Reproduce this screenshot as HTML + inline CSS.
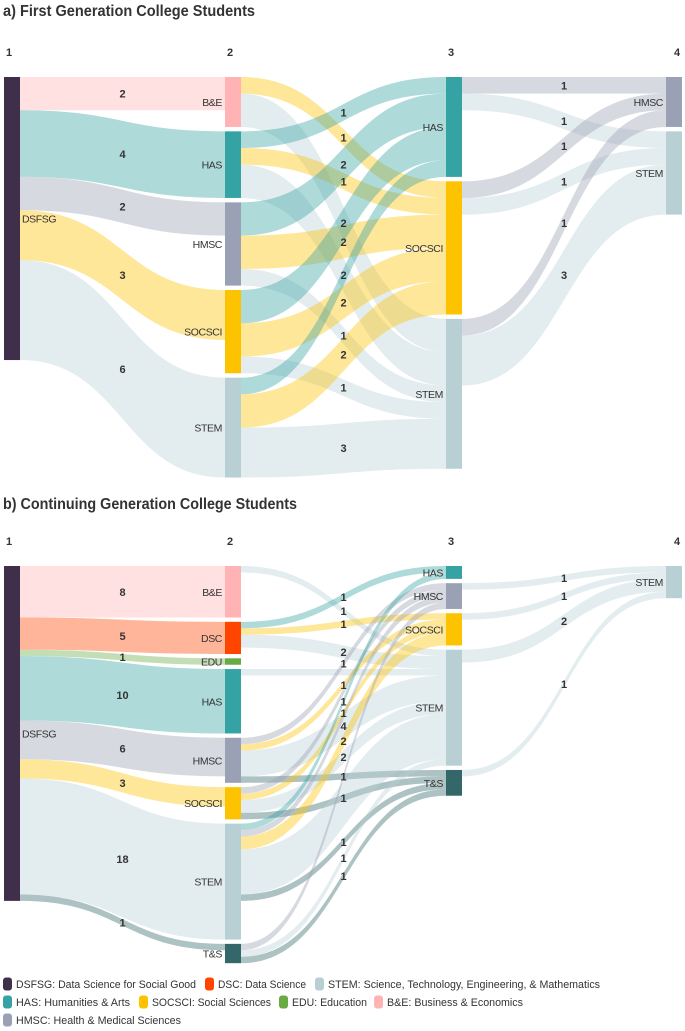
<!DOCTYPE html>
<html><head><meta charset="utf-8"><style>
body{margin:0;background:#fff}
svg{display:block;font-family:"Liberation Sans",sans-serif}
</style></head><body>
<svg id="s" width="685" height="1031" viewBox="0 0 685 1031">
<text x="3" y="16" font-size="15.5" font-weight="bold" fill="#333" textLength="252" lengthAdjust="spacingAndGlyphs">a) First Generation College Students</text>
<text x="3" y="509" font-size="15.5" font-weight="bold" fill="#333" textLength="294" lengthAdjust="spacingAndGlyphs">b) Continuing Generation College Students</text>
<g id="legend"></g>
</svg>
<script>
// ---- Chart A data ----
const aNodeNames = ["DSFSG","B&E","HAS","HMSC","SOCSCI","STEM","HAS","SOCSCI","STEM","HMSC","STEM"];
const aNodeCols  = [0,1,1,1,1,1,2,2,2,3,3];
const aLinkSrc = [0,0,0,0,0, 1,1, 2,2,2, 3,3,3, 4,4,4, 5,5,5, 6,6, 7,7, 8,8];
const aLinkTgt = [1,2,3,4,5, 7,8, 6,7,8, 6,7,8, 6,7,8, 6,7,8, 9,10, 9,10, 9,10];
const aLinkVal = [2,4,2,3,6, 1,2, 1,1,2, 2,2,1, 2,2,1, 1,2,3, 1,1, 1,1, 1,3];
// ---- Chart B data ----
const bNodeNames = ["DSFSG","B&E","DSC","EDU","HAS","HMSC","SOCSCI","STEM","T&S","HAS","HMSC","SOCSCI","STEM","T&S","STEM"];
const bNodeCols  = [0,1,1,1,1,1,1,1,1,2,2,2,2,2,3];
const bLinkSrc = [0,0,0,0,0,0,0,0, 1, 2,2,2, 4, 5,5,5,5, 6,6,6,6, 7,7,7,7,7, 8,8,8, 10,11,12,13];
const bLinkTgt = [1,2,3,4,5,6,7,8, 12, 9,11,12, 12, 10,11,12,13, 10,11,12,13, 9,10,11,12,13, 10,12,13, 14,14,14,14];
const bLinkVal = [8,5,1,10,6,3,18,1, 1, 1,1,2, 1, 1,1,4,1, 1,1,2,1, 1,1,2,7,1, 1,1,1, 1,1,2,1];
// ---- Legend ----
const legendLabels = ["DSFSG: Data Science for Social Good","DSC: Data Science","STEM: Science, Technology, Engineering, & Mathematics","HAS: Humanities & Arts","SOCSCI: Social Sciences","EDU: Education","B&E: Business & Economics","HMSC: Health & Medical Sciences"];
const legendKeys = ["DSFSG","DSC","STEM","HAS","SOCSCI","EDU","B&E","HMSC"];

const colors = {"DSFSG":"#3f2f4a","B&E":"#ffb3b5","DSC":"#ff4500","EDU":"#6aaa44","HAS":"#35a3a3","HMSC":"#9aa1b5","SOCSCI":"#fdc300","STEM":"#b8cfd4","T&S":"#33676a"};
const NS="http://www.w3.org/2000/svg";
const svg=document.getElementById('s');
const colX=[4,225,446,666], NW=16;
function mk(tag,attrs,parent){const e=document.createElementNS(NS,tag);for(const k in attrs)e.setAttribute(k,attrs[k]);(parent||svg).appendChild(e);return e;}
function slug(s){return s.toLowerCase().replace(/&/g,'and').replace(/[^a-z0-9]+/g,'-');}

function drawSankey(names,cols,src,tgt,val,top,unit,gap,hdrY,prefix){
  const n=names.length, inS=new Array(n).fill(0), outS=new Array(n).fill(0);
  for(let i=0;i<src.length;i++){outS[src[i]]+=val[i];inS[tgt[i]]+=val[i];}
  const ny=[],nh=[],colY={};
  for(let i=0;i<n;i++){const c=cols[i];if(colY[c]===undefined)colY[c]=top;ny[i]=colY[c];nh[i]=Math.max(inS[i],outS[i])*unit;colY[c]+=nh[i]+gap;}
  const sOff={},tOff={};
  const order=[...src.keys()];
  const outOrd=order.slice().sort((a,b)=>src[a]-src[b]||tgt[a]-tgt[b]);
  const oAcc=new Array(n).fill(0),iAcc=new Array(n).fill(0);
  outOrd.forEach(i=>{sOff[i]=ny[src[i]]+oAcc[src[i]];oAcc[src[i]]+=val[i]*unit;});
  const inOrd=order.slice().sort((a,b)=>tgt[a]-tgt[b]||src[a]-src[b]);
  inOrd.forEach(i=>{tOff[i]=ny[tgt[i]]+iAcc[tgt[i]];iAcc[tgt[i]]+=val[i]*unit;});
  const lg=mk('g',{});
  
  
  const labs=[];
  for(let i=0;i<src.length;i++){
    const w=val[i]*unit,x0=colX[cols[src[i]]]+NW,x1=colX[cols[tgt[i]]],xm=(x0+x1)/2;
    const y0=sOff[i],y1=tOff[i];
    const d=`M${x0},${y0}C${xm},${y0} ${xm},${y1} ${x1},${y1}L${x1},${y1+w}C${xm},${y1+w} ${xm},${y0+w} ${x0},${y0+w}Z`;
    const p=mk('path',{d:d,fill:colors[names[tgt[i]]],'fill-opacity':0.4},lg);
    
    
    labs.push([xm,(y0+y1)/2+w/2,val[i],cols[src[i]]]);
  }
  for(let i=0;i<n;i++){
    const r=mk('rect',{x:colX[cols[i]],y:ny[i],width:NW,height:nh[i],fill:colors[names[i]]});
    
    
    const left=cols[i]===0;
    const t=mk('text',{x:left?colX[0]+NW+2:colX[cols[i]]-3,y:ny[i]+nh[i]/2+4,'font-size':10.5,fill:'#333','text-anchor':left?'start':'end','letter-spacing':'-0.4'});
    t.textContent=names[i];
    
    
  }
  labs.sort((a,b)=>a[3]-b[3]||a[1]-b[1]);
  let lastCol=-1,lastY=-1e9;
  labs.forEach(l=>{
    if(l[3]===lastCol && l[1]-lastY<10) return;
    lastCol=l[3];lastY=l[1];
    const t=mk('text',{x:l[0],y:l[1]+4,'font-size':11,'font-weight':'bold',fill:'#333','text-anchor':'middle'});
    t.textContent=l[2];
    
    
  });
  [1,2,3,4].forEach((c,k)=>{
    const t=mk('text',{x:colX[k]+(k===3?11:5),y:hdrY,'font-size':11,'font-weight':'bold',fill:'#333','text-anchor':'middle'});
    t.textContent=c;
    
    
  });
}
drawSankey(aNodeNames,aNodeCols,aLinkSrc,aLinkTgt,aLinkVal,77,16.65,4.4,56,'first-gen');
drawSankey(bNodeNames,bNodeCols,bLinkSrc,bLinkTgt,bLinkVal,566,6.44,4.3,545,'continuing-gen');

// legend
const lgd=document.getElementById('legend');
const pos=[[3,984,180],[205,984,88],[315,984,272],[3,1002,114],[139,1002,119],[279,1002,75],[374,1002,136],[3,1020,165]];
legendKeys.forEach((k,i)=>{
  const [x,y,tl]=pos[i];
  const r=mk('rect',{x:x,y:y-6.5,width:9,height:13,rx:3,fill:colors[k]},lgd);
  
  
  const t=mk('text',{x:x+13,y:y+4,'font-size':11,fill:'#333',textLength:tl,lengthAdjust:'spacingAndGlyphs'},lgd);
  t.textContent=legendLabels[i];
  
  
});
</script>
</body></html>
